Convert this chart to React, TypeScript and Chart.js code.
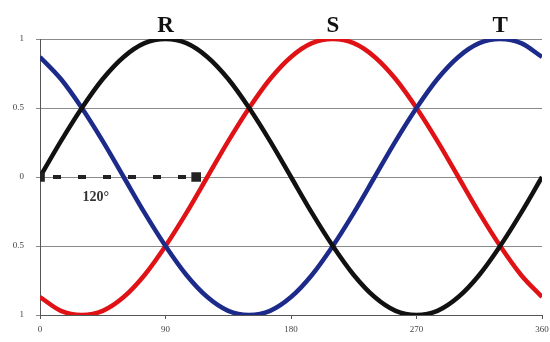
import React, { useEffect, useRef } from "react";
import { Chart, registerables } from "chart.js";

Chart.register(...registerables);

const angles = [0, 15, 30, 45, 60, 75, 90, 105, 120, 135, 150, 165, 180, 195, 210, 225, 240, 255, 270, 285, 300, 315, 330, 345, 360];
const seriesR = [0, 0.26, 0.5, 0.71, 0.87, 0.97, 1, 0.97, 0.87, 0.71, 0.5, 0.26, 0, -0.26, -0.5, -0.71, -0.87, -0.97, -1, -0.97, -0.87, -0.71, -0.5, -0.26, 0];
const seriesS = [-0.87, -0.97, -1, -0.97, -0.87, -0.71, -0.5, -0.26, 0, 0.26, 0.5, 0.71, 0.87, 0.97, 1, 0.97, 0.87, 0.71, 0.5, 0.26, 0, -0.26, -0.5, -0.71, -0.87];
const seriesT = [0.87, 0.71, 0.5, 0.26, 0, -0.26, -0.5, -0.71, -0.87, -0.97, -1, -0.97, -0.87, -0.71, -0.5, -0.26, 0, 0.26, 0.5, 0.71, 0.87, 0.97, 1, 0.97, 0.87];
const phaseAngles = [0, 112];
const phaseValues = [0, 0];
const xTicks = [0, 90, 180, 270, 360];
const yTickValues = [1, 0.5, 0, -0.5, -1];
const yTickLabels = ["1", "0.5", "0", "0.5", "1"];
const phaseLabels = ["R", "S", "T"];
const phasePeaks = [90, 210, 330];
const shiftLabel = "120°";
const shiftLabelAt = 40;

const toPts = (xs: number[], ys: number[]) => xs.map((x, i) => ({ x, y: ys[i] }));

const labelPlugin = {
  id: "phaseLabels",
  afterDatasetsDraw(chart: any) {
    const { ctx, scales } = chart;
    const xs = scales.x;
    const ys = scales.y;
    ctx.save();
    ctx.fillStyle = "#111";
    ctx.textAlign = "center";
    ctx.textBaseline = "alphabetic";
    ctx.font = "bold 23px 'Liberation Serif', 'DejaVu Serif', serif";
    phaseLabels.forEach((t, i) => {
      ctx.fillText(t, xs.getPixelForValue(phasePeaks[i]), ys.getPixelForValue(1) - 7);
    });
    ctx.font = "bold 14px 'Liberation Serif', 'DejaVu Serif', serif";
    ctx.fillStyle = "#333";
    ctx.fillText(shiftLabel, xs.getPixelForValue(shiftLabelAt), ys.getPixelForValue(0) + 24);
    ctx.restore();
  },
};

const lineBase = {
  borderWidth: 4.5,
  pointRadius: 0,
  cubicInterpolationMode: "monotone" as const,
};

export default function App() {
  const ref = useRef<HTMLCanvasElement | null>(null);
  useEffect(() => {
    document.body.style.margin = "0";
    const chart = new Chart(ref.current as HTMLCanvasElement, {
      type: "line",
      data: {
        datasets: [
          { ...lineBase, data: toPts(angles, seriesR), borderColor: "#111111", order: 1 },
          { ...lineBase, data: toPts(angles, seriesT), borderColor: "#1c2a8a", order: 2 },
          { ...lineBase, data: toPts(angles, seriesS), borderColor: "#e01216", order: 3 },
          {
            data: toPts(phaseAngles, phaseValues),
            borderColor: "#222",
            backgroundColor: "#222",
            borderWidth: 4,
            borderDash: [8, 17],
            borderDashOffset: 12,
            pointRadius: 4,
            pointStyle: "rect",
            tension: 0,
            order: 0,
          },
        ],
      },
      options: {
        animation: false,
        responsive: false,
        maintainAspectRatio: false,
        layout: { padding: { top: 39, right: 7, left: 0, bottom: 0 } },
        plugins: { legend: { display: false }, tooltip: { enabled: false } },
        scales: {
          x: {
            type: "linear",
            min: 0,
            max: 360,
            afterBuildTicks: (s: any) => {
              s.ticks = xTicks.map((v) => ({ value: v }));
            },
            afterFit: (s: any) => {
              s.height = 27;
              s.paddingRight = 0;
              s.paddingLeft = 0;
            },
            grid: { display: true, drawOnChartArea: false, drawTicks: true, tickLength: 4, color: "#555" },
            border: { display: true, color: "#555", width: 1 },
            ticks: {
              color: "#444",
              padding: 5,
              font: { size: 9, family: "'Liberation Serif', serif" },
              maxRotation: 0,
            },
          },
          y: {
            type: "linear",
            min: -1,
            max: 1,
            afterBuildTicks: (s: any) => {
              s.ticks = yTickValues.map((v) => ({ value: v }));
            },
            afterFit: (s: any) => {
              s.width = 40;
              s.paddingTop = 0;
              s.paddingBottom = 0;
            },
            grid: { color: "#8a8a8a", lineWidth: 1, tickLength: 4, drawTicks: true },
            border: { display: true, color: "#555", width: 1 },
            ticks: {
              color: "#444",
              padding: 12,
              font: { size: 9, family: "'Liberation Serif', serif" },
              callback: (v: any) => {
                const i = yTickValues.indexOf(Number(v));
                return i >= 0 ? yTickLabels[i] : "";
              },
            },
          },
        },
      },
      plugins: [labelPlugin],
    });
    return () => chart.destroy();
  }, []);
  return (
    <div style={{ position: "absolute", left: 0, top: 0, width: 550, height: 342, background: "#fff" }}>
      <canvas ref={ref} width={550} height={342} />
    </div>
  );
}
